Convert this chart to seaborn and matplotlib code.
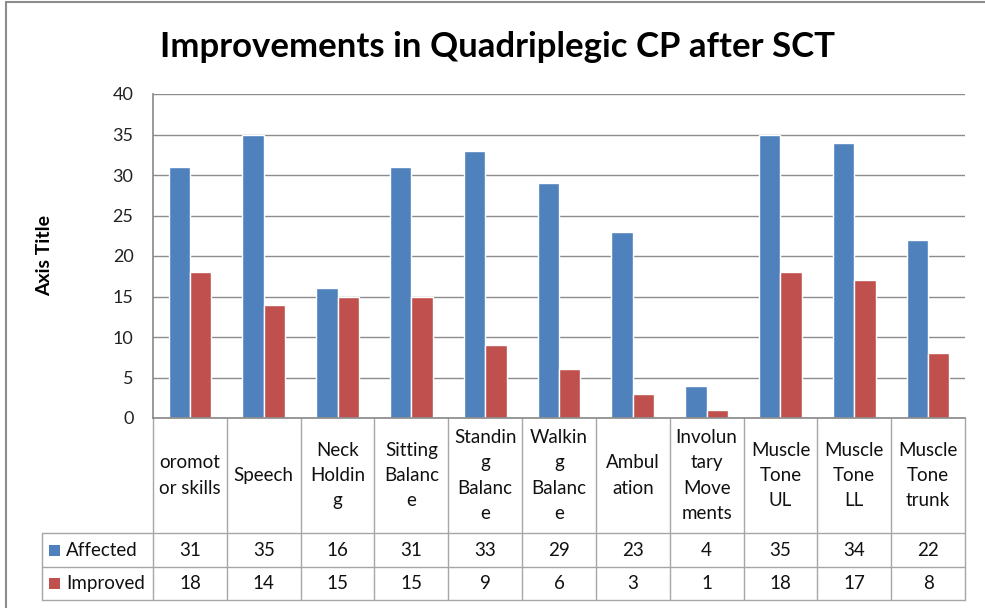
import matplotlib
matplotlib.use("Agg")
import matplotlib.pyplot as plt
import matplotlib.transforms as mtransforms
from matplotlib.lines import Line2D
from matplotlib.patches import Rectangle
import seaborn as sns
import pandas as pd

# ---------------- data ----------------
categories = ["oromot\nor skills", "Speech", "Neck\nHoldin\ng", "Sitting\nBalanc\ne",
              "Standin\ng\nBalanc\ne", "Walkin\ng\nBalanc\ne", "Ambul\nation",
              "Involun\ntary\nMove\nments", "Muscle\nTone\nUL", "Muscle\nTone\nLL",
              "Muscle\nTone\ntrunk"]
affected = [31, 35, 16, 31, 33, 29, 23, 4, 35, 34, 22]
improved = [18, 14, 15, 15, 9, 6, 3, 1, 18, 17, 8]
series_names = ["Affected", "Improved"]
series_colors = ["#4F81BD", "#C0504D"]
yticks = [0, 5, 10, 15, 20, 25, 30, 35, 40]
title = "Improvements in Quadriplegic CP after SCT"
y_title = "Axis Title"

# ---------------- style ----------------
sns.set_theme(style="white")
FONT = ["Lato", "DejaVu Sans"]
plt.rcParams["font.family"] = FONT
GRID = "#8C8C8C"
TABLE = "#A6A6A6"

df = pd.DataFrame({
    "category": categories * 2,
    "series": [series_names[0]] * len(categories) + [series_names[1]] * len(categories),
    "value": affected + improved,
})

W, H = 985, 608
fig = plt.figure(figsize=(W / 100, H / 100), dpi=100)
L, R, T, B = 153, 965, 94, 418
ax = fig.add_axes([L / W, 1 - B / H, (R - L) / W, (B - T) / H])

sns.barplot(data=df, x="category", y="value", hue="series", order=categories,
            hue_order=series_names, palette=series_colors, saturation=1,
            width=0.58, ax=ax, legend=False)

ax.set_ylim(0, 40)
ax.set_xlim(-0.5, len(categories) - 0.5)
ax.set_yticks(yticks)
ax.set_yticklabels([str(v) for v in yticks], fontsize=13, color="#222222")
ax.tick_params(axis="y", length=0, pad=14)
ax.set_xticks([])
ax.set_xlabel("")
ax.set_ylabel("")
ax.yaxis.grid(True, color=GRID, lw=1)
ax.set_axisbelow(True)
for s in ["top", "right"]:
    ax.spines[s].set_visible(False)
ax.spines["left"].set_color(GRID)
ax.spines["bottom"].set_color(GRID)

def ay(py):
    return (B - py) / (B - T)

def axx(px):
    return (px - L) / (R - L)

blend = mtransforms.blended_transform_factory(ax.transData, ax.transAxes)

# table grid
row1, row2, row3 = 533, 567, 600
for py in (row1, row2, row3):
    ax.add_line(Line2D([axx(42), 1], [ay(py), ay(py)], transform=ax.transAxes,
                       color=TABLE, lw=1, clip_on=False))
ax.add_line(Line2D([axx(42), axx(42)], [ay(row1), ay(row3)], transform=ax.transAxes,
                   color=TABLE, lw=1, clip_on=False))
ax.add_line(Line2D([0, 0], [0, ay(row3)], transform=ax.transAxes,
                   color=TABLE, lw=1, clip_on=False))
for i in range(len(categories)):
    xb = i + 0.5
    ax.add_line(Line2D([xb, xb], [0, ay(row3)], transform=blend,
                       color=TABLE, lw=1, clip_on=False))

# category labels
for i, c in enumerate(categories):
    ax.text(i, ay((B + row1) / 2), c, transform=blend, ha="center", va="center",
            fontsize=13.5, linespacing=1.6, color="#111111", clip_on=False)

# value rows
for vals, py in ((affected, (row1 + row2) / 2), (improved, (row2 + row3) / 2)):
    for i, v in enumerate(vals):
        ax.text(i, ay(py), str(v), transform=blend, ha="center", va="center",
                fontsize=13.5, color="#111111", clip_on=False)

# legend keys in table
for name, col, py in ((series_names[0], series_colors[0], (row1 + row2) / 2),
                      (series_names[1], series_colors[1], (row2 + row3) / 2)):
    sq = 11
    ax.add_patch(Rectangle((axx(49), ay(py + sq / 2)), sq / (R - L), sq / (B - T),
                           transform=ax.transAxes, facecolor=col, edgecolor="none",
                           clip_on=False))
    ax.text(axx(66), ay(py), name, transform=ax.transAxes, ha="left", va="center",
            fontsize=13.5, color="#111111", clip_on=False)

# titles
fig.text(497 / W, 1 - 47 / H, title, ha="center", va="center",
         fontsize=25, fontweight="bold", color="#000000")
fig.text(45 / W, 1 - 255.5 / H, y_title, ha="center", va="center", rotation=90,
         fontsize=14, fontweight="bold", color="#000000")

# chart border
fig.add_artist(Line2D([6 / W, 6 / W], [0, 1 - 2 / H], transform=fig.transFigure,
                      color="#8C8C8C", lw=1.5))
fig.add_artist(Line2D([6 / W, 1], [1 - 2 / H, 1 - 2 / H], transform=fig.transFigure,
                      color="#8C8C8C", lw=1.5))

fig.savefig("out.png", dpi=100)
